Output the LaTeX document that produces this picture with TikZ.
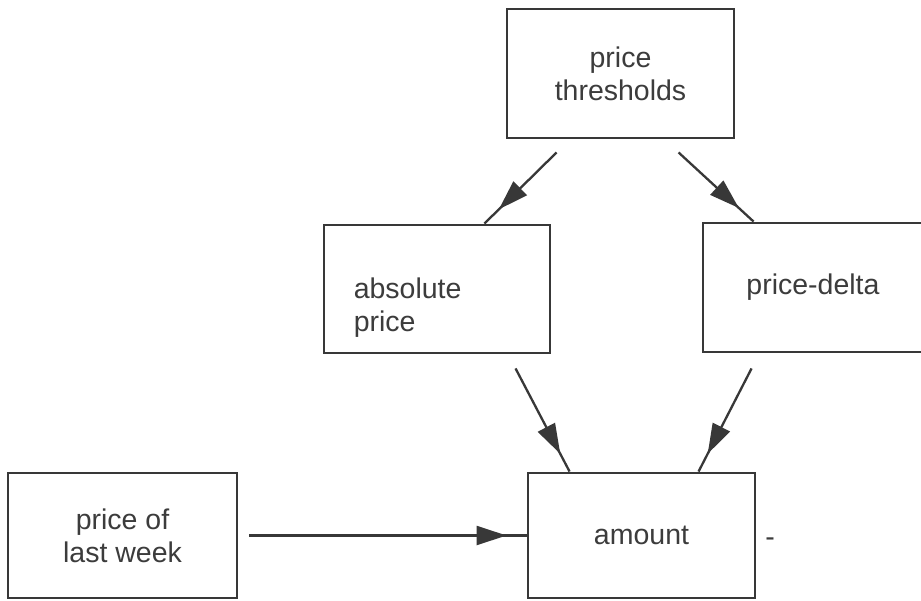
\documentclass[tikz,border=0pt]{standalone}
\usepackage{fontspec}
\setmainfont{Liberation Sans}
\usetikzlibrary{calc,arrows.meta,decorations.markings}
\definecolor{ink}{HTML}{383838}
\definecolor{txt}{HTML}{3C3C3C}
\begin{document}
\begin{tikzpicture}[x=1pt,y=-1pt,
  labelfont/.style={font=\fontsize{28.5}{33}\selectfont},
  box/.style={draw=ink, line width=2.9pt, rectangle, inner sep=0pt,
              text=txt, labelfont, align=center},
  lbl/.style={inner sep=0pt, text=txt, labelfont, align=left},
  conn/.style={draw=ink, line width=2.3pt, postaction={decorate},
    decoration={markings,
      mark=at position -20pt with {\arrow[ink]{Triangle[length=30pt,width=19pt]}}}}]
  \useasboundingbox (0,0) rectangle (921,600);
  \fill[white] (0,0) rectangle (921,600);
  \clip (0,0) rectangle (921,600);

  % boxes
  \node[box, minimum width=227pt, minimum height=129pt] (thr) at (620.5,73.5) {price\\thresholds};
  \node[box, minimum width=226pt, minimum height=128pt] (abs) at (437,289) {};
  \node[lbl, anchor=west] (abst) at ($(abs.west)+(31,19)$) {absolute\\price};
  \node[box, minimum width=220pt, minimum height=129pt] (dlt) at (813,287.5) {price-delta};
  \node[box, minimum width=229pt, minimum height=125pt] (lst) at (122.5,535.5) {price of\\last week};
  \node[box, minimum width=227pt, minimum height=125pt] (amt) at (641.5,535.5) {amount};
  \node[lbl, anchor=center] (dash) at (770,542) {-};

  % connectors
  \draw[conn] ($(thr.south west)+(51,13)$) -- ($(abs.north east)+(-67,0)$);
  \draw[conn] ($(thr.south west)+(173,13)$) -- ($(dlt.north west)+(52,0)$);
  \draw[conn] ($(abs.south west)+(193,14)$) -- ($(amt.north west)+(43,0)$);
  \draw[conn] ($(dlt.south west)+(50,15)$) -- ($(amt.north west)+(172,0)$);
  \draw[conn] ($(lst.east)+(11,0)$) -- (amt.west);
\end{tikzpicture}
\end{document}
